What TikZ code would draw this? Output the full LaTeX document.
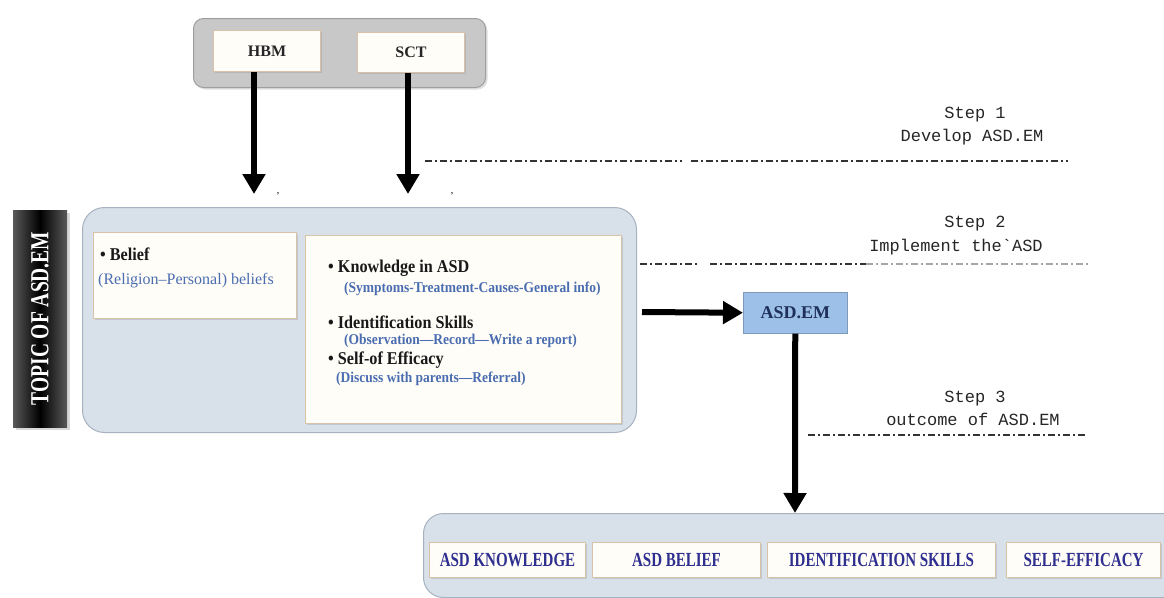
\documentclass[tikz,border=0pt]{standalone}
\usepackage{fontspec}
\setmainfont{Liberation Serif}
\newfontfamily\serifA{Liberation Serif}
\newfontfamily\serifB{Liberation Serif}[FakeStretch=0.9]
\newfontfamily\serifC{Liberation Serif}[FakeStretch=0.75]
\newfontfamily\monoF{Liberation Mono}
\usetikzlibrary{arrows.meta,shadows}
\newcommand{\myfs}[1]{\fontsize{#1}{#1}\selectfont}
\definecolor{panelfill}{HTML}{D8E0EA}
\definecolor{paneldraw}{HTML}{A7B2C0}
\definecolor{greyfill}{HTML}{C8C8C8}
\definecolor{greydraw}{HTML}{9E9E9E}
\definecolor{cream}{HTML}{FFFDF8}
\definecolor{tanc}{HTML}{D8C2A8}
\definecolor{bluetxt}{HTML}{4A6DB0}
\definecolor{navy}{HTML}{1F2F5C}
\definecolor{outtxt}{HTML}{2F2F8F}
\definecolor{emfill}{HTML}{9DC0E8}
\definecolor{dashc}{HTML}{333333}
\tikzset{
  panel/.style={draw=paneldraw, fill=panelfill, rounded corners=22pt, line width=1pt, inner sep=0pt, anchor=north west},
  whitebox/.style={draw=tanc, fill=cream, line width=1pt, inner sep=0pt, anchor=north west,
    drop shadow={shadow xshift=1.5pt, shadow yshift=-1.5pt, opacity=0.25}},
  topboxstyle/.style={draw=greydraw, fill=greyfill, rounded corners=10pt, line width=1pt, inner sep=0pt, anchor=north west,
    drop shadow={shadow xshift=2pt, shadow yshift=-2pt, opacity=0.25}},
  bigarrow/.style={line width=6pt, -{Triangle[width=22pt,length=20pt]}},
  stepline/.style={draw=dashc, line width=2pt, dash pattern=on 7pt off 3pt on 2pt off 3pt},
  steptxt/.style={font=\monoF\myfs{17}, inner sep=0pt, text=black!85},
  headtxt/.style={font=\serifB\bfseries\myfs{18}, inner sep=0pt, anchor=west, text=black!90},
  subtxt/.style={font=\serifB\bfseries\myfs{15}, inner sep=0pt, anchor=west, text=bluetxt},
  outtxtstyle/.style={font=\serifC\bfseries\myfs{20}, text=outtxt},
}
\begin{document}
\begin{tikzpicture}[x=1pt,y=-1pt]
\useasboundingbox (0,0) rectangle (1164,597);
\clip (0,0) rectangle (1164,597);
\fill[white] (0,0) rectangle (1164,597);

% top group
\node[topboxstyle, minimum width=292pt, minimum height=69pt] (topbox) at (193,18) {};
\node[whitebox, minimum width=107pt, minimum height=41pt, font=\serifA\bfseries\myfs{16}, text=black!85] (hbm) at (213,30) {HBM};
\node[whitebox, minimum width=107pt, minimum height=40pt, font=\serifA\bfseries\myfs{16}, text=black!85] (sct) at (357,32) {SCT};

% topic label
\node[rotate=90, minimum width=217pt, minimum height=54pt, inner sep=0pt,
      left color=black!65, right color=black!65, middle color=black,
      drop shadow={shadow xshift=3pt, shadow yshift=-3pt, opacity=0.3},
      font=\serifC\bfseries\myfs{26}, text=white] (topic) at (40,318.5) {TOPIC OF ASD.EM};

% main panel
\node[panel, minimum width=554pt, minimum height=225pt] (mainpanel) at (82,207) {};
\node[whitebox, minimum width=203pt, minimum height=86pt] (beliefbox) at (93,232) {};
\node[whitebox, minimum width=316pt, minimum height=188pt] (knowbox) at (305,235) {};

\node[headtxt] (belief) at (100,254) {\textbullet\ Belief};
\node[font=\serifA\myfs{16}, inner sep=0pt, anchor=west, text=bluetxt] (beliefsub) at (98,281) {(Religion–Personal) beliefs};

\node[headtxt] (k1) at (328,268) {\textbullet\ Knowledge in ASD};
\node[subtxt] (k1s) at (344,289) {(Symptoms-Treatment-Causes-General info)};
\node[headtxt] (k2) at (328,322) {\textbullet\ Identification Skills};
\node[subtxt] (k2s) at (344,341) {(Observation—Record—Write a report)};
\node[headtxt] (k3) at (328,360) {\textbullet\ Self-of Efficacy};
\node[subtxt] (k3s) at (336,379) {(Discuss with parents—Referral)};

% ASD.EM
\node[draw=emfill!80!black, line width=0.5pt, fill=emfill, inner sep=0pt, anchor=north west,
      minimum width=104pt, minimum height=41pt, font=\serifA\bfseries\myfs{18}, text=navy] (asdem) at (743,292) {ASD.EM};

% bottom panel
\node[panel, rounded corners=20pt, minimum width=760pt, minimum height=84pt] (bottompanel) at (423,513) {};
\node[whitebox, minimum width=156pt, minimum height=35pt, outtxtstyle] (o1) at (429,542) {ASD KNOWLEDGE};
\node[whitebox, minimum width=168pt, minimum height=35pt, outtxtstyle] (o2) at (592,542) {ASD BELIEF};
\node[whitebox, minimum width=228pt, minimum height=35pt, outtxtstyle] (o3) at (767,542) {IDENTIFICATION SKILLS};
\node[whitebox, minimum width=154pt, minimum height=35pt, outtxtstyle] (o4) at (1006,542) {SELF-EFFICACY};

% arrows
\coordinate (hbmtip) at (254,194);
\coordinate (scttip) at (408,194);
\coordinate (hstart) at (642,312);
\coordinate (vtip) at (795,513);
\draw[bigarrow] (hbmtip |- hbm.south) -- (hbmtip);
\draw[bigarrow] (scttip |- sct.south) -- (scttip);
\draw[bigarrow] (hstart) -- (asdem.west);
\draw[bigarrow] (asdem.south) -- (vtip);

% stray marks
\node[font=\serifA\myfs{10}, inner sep=0pt] (mark1) at (278,194) {,};
\node[font=\serifA\myfs{10}, inner sep=0pt] (mark2) at (452,194) {,};

% steps
\node[steptxt] (s1a) at (975,115) {Step 1};
\node[steptxt] (s1b) at (972,137) {Develop ASD.EM};
\coordinate (l1a) at (425,161); \coordinate (l1b) at (682,161);
\coordinate (l1c) at (691,161); \coordinate (l1d) at (1068,161);
\draw[stepline] (l1a) -- (l1b);
\draw[stepline] (l1c) -- (l1d);

\node[steptxt] (s2a) at (975,224) {Step 2};
\node[steptxt] (s2b) at (956,247) {Implement the\char96 ASD};
\coordinate (l2a) at (640,264); \coordinate (l2b) at (698,264);
\coordinate (l2c) at (710,264); \coordinate (l2d) at (866,264);
\coordinate (l2e) at (1089,264);
\draw[stepline] (l2a) -- (l2b);
\draw[stepline] (l2c) -- (l2d);
\draw[stepline, draw=black!35] (l2d) -- (l2e);

\node[steptxt] (s3a) at (975,399) {Step 3};
\node[steptxt] (s3b) at (973,419) {outcome of ASD.EM};
\coordinate (l3a) at (808,435); \coordinate (l3b) at (1087,435);
\draw[stepline] (l3a) -- (l3b);
\end{tikzpicture}
\end{document}
